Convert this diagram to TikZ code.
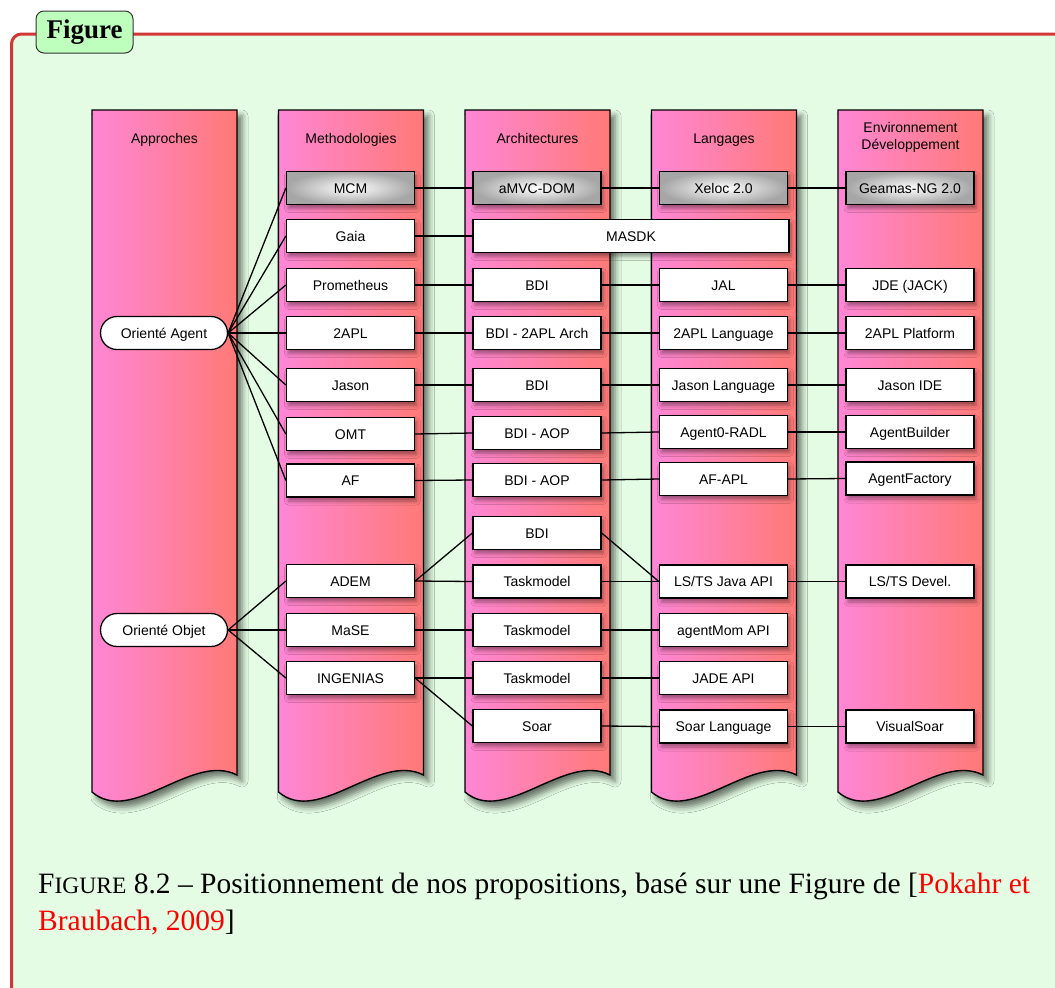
\documentclass[tikz,border=0pt]{standalone}
\usepackage{fontspec}
\setmainfont{Liberation Serif}
\newfontfamily\helv{Liberation Sans}
\usetikzlibrary{shadows.blur,shapes.misc}
\definecolor{framered}{RGB}{210,55,55}
\definecolor{framebg}{RGB}{228,252,228}
\definecolor{labelbg}{RGB}{190,255,190}
\definecolor{lanepink}{RGB}{255,134,214}
\definecolor{lanesalmon}{RGB}{255,122,118}
\begin{document}
\begin{tikzpicture}[x=1pt,y=-1pt,
  lane/.style={draw=black, line width=1.4pt, left color=lanepink, right color=lanesalmon,
    blur shadow={shadow xshift=5pt, shadow yshift=-6pt, shadow blur radius=6pt, shadow opacity=55}},
  head/.style={inner sep=0pt, align=center, anchor=base, font=\helv\fontsize{14}{17}\selectfont},
  box/.style={draw=black, line width=1.3pt, fill=white, minimum width=128pt, minimum height=33pt,
    inner sep=0pt, text height=10pt, text depth=0pt, font=\helv\fontsize{14}{16}\selectfont,
    blur shadow={shadow xshift=2pt, shadow yshift=-4pt, shadow blur radius=4pt, shadow opacity=40}},
  gbox/.style={box, inner color=white, outer color=black!35},
  oval/.style={draw=black, line width=1.3pt, fill=white, rounded rectangle, minimum width=127pt,
    minimum height=33pt, inner sep=0pt, text height=10pt, text depth=0pt, font=\helv\fontsize{14}{16}\selectfont},
  conn/.style={draw=black, line width=1.3pt}
]
\useasboundingbox (0,0) rectangle (1055,988);
\clip (0,0) rectangle (1055,988);
\fill[white] (0,0) rectangle (1055,988);
% frame
\fill[framebg, rounded corners=10pt] (11.5,1010) -- (11.5,34) -- (1070,34) -- (1070,1010) -- cycle;
\draw[framered, line width=3pt, rounded corners=10pt] (11.5,1010) -- (11.5,34) -- (1070,34);
\node[draw=black!80, fill=labelbg, rounded corners=8pt, line width=1pt, minimum width=97pt,
  minimum height=42pt, inner sep=0pt, font=\bfseries\fontsize{27}{27}\selectfont] (figlabel) at (84.5,32) {Figure};
% lanes
\foreach \x in {92,278.5,465,651.5,838}{
  \path[lane] (\x,110) -- ({\x+145},110) -- ({\x+145},775)
    .. controls ({\x+100},752) and ({\x+40},826) .. (\x,792) -- cycle;
}
\node[head] (h1) at (164.5,143) {Approches};
\node[head] (h2) at (351,143) {Methodologies};
\node[head] (h3) at (537.5,143) {Architectures};
\node[head] (h4) at (724,143) {Langages};
\node[head, anchor=center] (h5) at (910.5,137) {Environnement\\Développement};
% approaches
\node[oval] (oa) at (164,333) {Orienté Agent};
\node[oval] (oo) at (164,630) {Orienté Objet};
% methodologies
\node[gbox] (mcm) at (350.5,188) {MCM};
\node[box] (gaia) at (350.5,236) {Gaia};
\node[box] (prom) at (350.5,285) {Prometheus};
\node[box] (tapl) at (350.5,333) {2APL};
\node[box] (jason) at (350.5,385) {Jason};
\node[box] (omt) at (350.5,434) {OMT};
\node[box] (af) at (350.5,480.5) {AF};
\node[box] (adem) at (350.5,581) {ADEM};
\node[box] (mase) at (350.5,630) {MaSE};
\node[box] (ingenias) at (350.5,678) {INGENIAS};
% architectures
\node[gbox] (amvc) at (537,188) {aMVC-DOM};
\node[box, minimum width=316pt] (masdk) at (631,236) {MASDK};
\node[box] (bdia) at (537,285) {BDI};
\node[box] (bdib) at (537,333) {BDI - 2APL Arch};
\node[box] (bdic) at (537,385) {BDI};
\node[box] (aopa) at (537,433) {BDI - AOP};
\node[box] (aopb) at (537,480) {BDI - AOP};
\node[box] (bdid) at (537,533) {BDI};
\node[box] (taska) at (537,581.5) {Taskmodel};
\node[box] (taskb) at (537,630) {Taskmodel};
\node[box] (taskc) at (537,678) {Taskmodel};
\node[box] (soar) at (537,726) {Soar};
% languages
\node[gbox] (xeloc) at (723.5,188) {Xeloc 2.0};
\node[box] (jal) at (723.5,285) {JAL};
\node[box] (tapll) at (723.5,333) {2APL Language};
\node[box] (jasonl) at (723.5,385) {Jason Language};
\node[box] (agent0) at (723.5,432) {Agent0-RADL};
\node[box] (afapl) at (723.5,479) {AF-APL};
\node[box] (lsts) at (723.5,581.5) {LS/TS Java API};
\node[box] (agentmom) at (723.5,630) {agentMom API};
\node[box] (jade) at (723.5,678) {JADE API};
\node[box] (soarl) at (723.5,726.5) {Soar Language};
% environments
\node[gbox] (geamas) at (910,188) {Geamas-NG 2.0};
\node[box] (jde) at (910,285) {JDE (JACK)};
\node[box] (taplp) at (910,333) {2APL Platform};
\node[box] (jide) at (910,385) {Jason IDE};
\node[box] (abuild) at (910,432) {AgentBuilder};
\node[box] (afact) at (910,478.5) {AgentFactory};
\node[box] (lstsd) at (910,581.5) {LS/TS Devel.};
\node[box] (vsoar) at (910,726.5) {VisualSoar};
% connectors
\foreach \t in {mcm,gaia,prom,tapl,jason,omt,af}{ \draw[conn] (oa.east) -- (\t.west); }
\foreach \t in {adem,mase,ingenias}{ \draw[conn] (oo.east) -- (\t.west); }
\draw[conn] (mcm.east) -- (amvc.west);
\draw[conn] (amvc.east) -- (xeloc.west);
\draw[conn] (xeloc.east) -- (geamas.west);
\draw[conn] (gaia.east) -- (masdk.west);
\draw[conn] (prom.east) -- (bdia.west);
\draw[conn] (bdia.east) -- (jal.west);
\draw[conn] (jal.east) -- (jde.west);
\draw[conn] (tapl.east) -- (bdib.west);
\draw[conn] (bdib.east) -- (tapll.west);
\draw[conn] (tapll.east) -- (taplp.west);
\draw[conn] (jason.east) -- (bdic.west);
\draw[conn] (bdic.east) -- (jasonl.west);
\draw[conn] (jasonl.east) -- (jide.west);
\draw[conn] (omt.east) -- (aopa.west);
\draw[conn] (aopa.east) -- (agent0.west);
\draw[conn] (agent0.east) -- (abuild.west);
\draw[conn] (af.east) -- (aopb.west);
\draw[conn] (aopb.east) -- (afapl.west);
\draw[conn] (afapl.east) -- (afact.west);
\draw[conn] (adem.east) -- (bdid.west);
\draw[conn] (adem.east) -- (taska.west);
\draw[conn] (bdid.east) -- (lsts.west);
\draw[conn] (taska.east) -- (lsts.west);
\draw[conn] (lsts.east) -- (lstsd.west);
\draw[conn] (mase.east) -- (taskb.west);
\draw[conn] (taskb.east) -- (agentmom.west);
\draw[conn] (ingenias.east) -- (taskc.west);
\draw[conn] (ingenias.east) -- (soar.west);
\draw[conn] (taskc.east) -- (jade.west);
\draw[conn] (soar.east) -- (soarl.west);
\draw[conn] (soarl.east) -- (vsoar.west);
% caption
\node[anchor=base west, inner sep=0pt, font=\fontsize{29.5}{36}\selectfont] (cap1) at (38,893)
  {F{\fontsize{23.5}{24}\selectfont IGURE} 8.2 – Positionnement de nos propositions, basé sur une Figure de [\textcolor{red}{Pokahr et}};
\node[anchor=base west, inner sep=0pt, font=\fontsize{29.5}{36}\selectfont] (cap2) at (38,930)
  {\textcolor{red}{Braubach, 2009}]};
\end{tikzpicture}
\end{document}
